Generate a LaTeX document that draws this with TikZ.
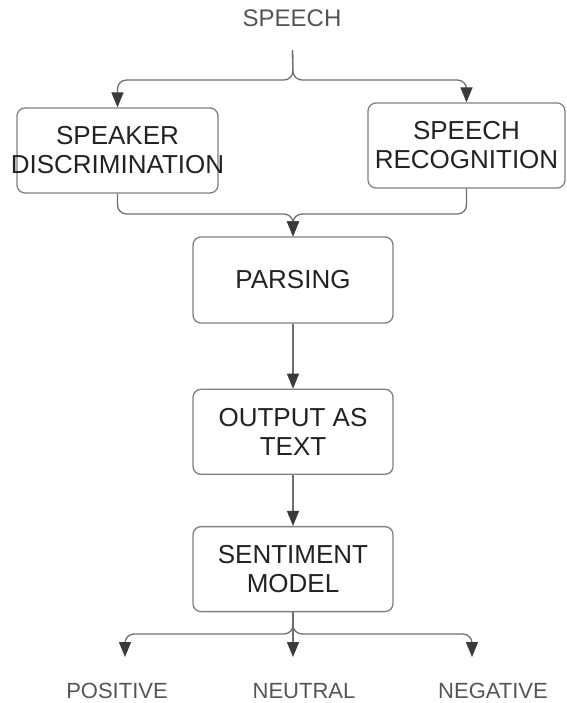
\documentclass[tikz,border=0pt]{standalone}
\usepackage{fontspec}
\setmainfont{Liberation Sans}
\usepackage{xcolor}
\definecolor{spLine}{RGB}{110,110,110}
\definecolor{spTip}{RGB}{58,58,58}
\definecolor{spBox}{RGB}{128,128,128}
\definecolor{spText}{RGB}{34,34,34}
\definecolor{spLabel}{RGB}{85,85,85}
\usetikzlibrary{positioning,arrows.meta}

\begin{document}
\begin{tikzpicture}[x=1pt,y=-1pt,node distance=60pt,
  o/.style={draw=spBox,line width=1.3pt,rounded corners=8pt,align=center,text=spText,font=\fontsize{26}{29}\selectfont,inner sep=2pt,minimum width=200pt,minimum height=85pt},
  l/.style={text=spLabel,font=\fontsize{22}{26}\selectfont},
  a/.style={-{Triangle[length=15pt,width=12pt,color=spTip]},spLine,line width=1.3pt,rounded corners=9pt}]
  \useasboundingbox (0,0) rectangle (566,703);
  \node[l,font=\fontsize{24}{28}\selectfont] (sp) at (292,18) {SPEECH};
  \node[o,minimum width=201pt] (disc) at (117.5,150.5) {SPEAKER\\\makebox[170pt]{DISCRIMINATION}};
  \node[o,minimum width=197pt] (recog) at (466.5,145.5) {SPEECH\\RECOGNITION};
  \node[o,minimum height=86pt] (pars) at (293,280) {PARSING};
  \node[o,below=65pt of pars] (outp) {OUTPUT AS\\TEXT};
  \node[o,below=51pt of outp] (sent) {SENTIMENT\\MODEL};
  \node[l] (pos) at (117,691) {POSITIVE};
  \node[l] (neu) at (304,691) {NEUTRAL};
  \node[l] (neg) at (493,691) {NEGATIVE};
  % forks and free ends
  \coordinate (fork) at (293,80);
  \coordinate (mj) at (293,214);
  \coordinate (sj) at (293,634);
  \coordinate (tpos) at (125,657);
  \coordinate (tneu) at (293,657);
  \coordinate (tneg) at (472,657);
  \draw[a,shorten <=20pt] (sp) -- (fork) -| (disc);
  \draw[a,shorten <=20pt] (sp) -- (fork) -| (recog);
  \draw[a] (disc) |- (mj) -- (pars);
  \draw[a] (recog) |- (mj) -- (pars);
  \draw[a] (pars) -- (outp);
  \draw[a] (outp) -- (sent);
  \draw[a] (sent) -- (sj) -| (tpos);
  \draw[a] (sent) -- (tneu);
  \draw[a] (sent) -- (sj) -| (tneg);
\end{tikzpicture}
\end{document}
